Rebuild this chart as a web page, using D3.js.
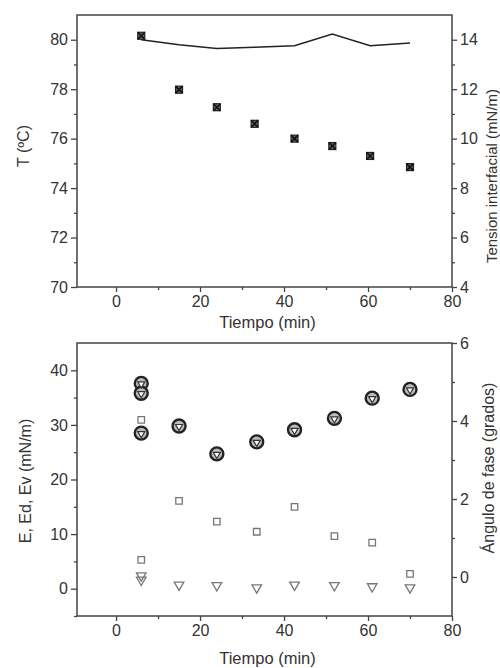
<!DOCTYPE html>
<html><head><meta charset="utf-8">
<script src="https://cdn.jsdelivr.net/npm/d3@7"></script>
<style>body{margin:0;background:#fff}svg{display:block}text{font-family:"Liberation Sans",Arial,sans-serif;fill:#333}</style>
</head><body><svg id="c" width="500" height="668"></svg>
<script>
// ---- data ----
const xTicks = [0, 20, 40, 60, 80];
// top panel
const tiempoTop = [6, 15, 24, 33, 42.5, 51.5, 60.5, 70];
const temperatura = [80.0, 79.8, 79.65, 79.7, 79.76, 80.23, 79.76, 79.87];   // T (ºC), line
const tension = [14.16, 11.98, 11.27, 10.6, 10.0, 9.7, 9.3, 8.85];              // mN/m, markers
const tTicks = [70, 72, 74, 76, 78, 80];
const tensionTicks = [4, 6, 8, 10, 12, 14];
// bottom panel
const tiempoE = [6, 6, 6, 15, 24, 33.5, 42.5, 52, 61, 70];
const E = [37.6, 35.8, 28.5, 29.8, 24.7, 26.9, 29.1, 31.2, 34.9, 36.5];
const Ed = [37.5, 35.7, 28.4, 29.7, 24.6, 26.8, 29.0, 31.1, 34.8, 36.4];
const tiempoEv = [6, 6, 15, 24, 33.5, 42.5, 52, 61, 70];
const Ev = [2.4, 1.6, 0.7, 0.6, 0.2, 0.7, 0.6, 0.4, 0.2];
const tiempoFase = [6, 6, 15, 24, 33.5, 42.5, 52, 61, 70];
const fase = [4.03, 0.44, 1.95, 1.42, 1.16, 1.8, 1.05, 0.88, 0.08];
const eTicks = [0, 10, 20, 30, 40];
const faseTicks = [0, 2, 4, 6];

const svg = d3.select("#c");
const L = 77, R = 452;
const x = d3.scaleLinear().domain([-9.3, 80]).range([L, R]);
const AX = "#444";
const FS = 16;

function frame(g, top, bottom){
  g.append("rect").attr("x", L).attr("y", top).attr("width", R - L).attr("height", bottom - top)
   .attr("fill", "none").attr("stroke", AX).attr("stroke-width", 1.5);
}
function styleAxis(sel){
  sel.select(".domain").remove();
  sel.selectAll("line").attr("stroke", AX).attr("stroke-width", 1.3);
  sel.selectAll("text").attr("font-size", FS).attr("fill", "#333");
}
const fmt = d3.format("d");
function xAxis(bottom){
  const g = svg.append("g").attr("transform", `translate(0,${bottom})`);
  g.call(d3.axisBottom(x).tickValues(xTicks).tickSize(5).tickPadding(4).tickFormat(fmt));
  styleAxis(g);
  const m = svg.append("g").attr("transform", `translate(0,${bottom})`);
  m.call(d3.axisBottom(x).tickValues([10, 30, 50, 70]).tickSize(3).tickFormat(""));
  styleAxis(m);
}
function yAxisLeft(y, ticks, minor){
  const g = svg.append("g").attr("transform", `translate(${L},0)`);
  g.call(d3.axisLeft(y).tickValues(ticks).tickSize(6).tickPadding(3).tickFormat(fmt));
  styleAxis(g);
  const m = svg.append("g").attr("transform", `translate(${L},0)`);
  m.call(d3.axisLeft(y).tickValues(minor).tickSize(3).tickFormat(""));
  styleAxis(m);
}
function yAxisRight(y, ticks, minor){
  const g = svg.append("g").attr("transform", `translate(${R},0)`);
  g.call(d3.axisRight(y).tickValues(ticks).tickSize(5).tickPadding(3).tickFormat(fmt));
  styleAxis(g);
  const m = svg.append("g").attr("transform", `translate(${R},0)`);
  m.call(d3.axisRight(y).tickValues(minor).tickSize(3).tickFormat(""));
  styleAxis(m);
}
function rotLabel(cx, cy, txt, fs){
  svg.append("text").attr("transform", `translate(${cx},${cy}) rotate(-90)`)
    .attr("text-anchor", "middle").attr("font-size", fs || FS).text(txt);
}

// ---- top panel ----
const T0 = 15, B0 = 287;
const yT = d3.scaleLinear().domain([70, 81]).range([B0, T0]);
const yTen = d3.scaleLinear().domain([4, 15]).range([B0, T0]);
frame(svg, T0, B0);
xAxis(B0);
yAxisLeft(yT, tTicks, [71, 73, 75, 77, 79]);
yAxisRight(yTen, tensionTicks, [5, 7, 9, 11, 13]);
svg.append("path").datum(tiempoTop.map((t, i) => [t, temperatura[i]]))
  .attr("d", d3.line().x(d => x(d[0])).y(d => yT(d[1])))
  .attr("fill", "none").attr("stroke", "#222").attr("stroke-width", 1.5);
const tm = svg.append("g");
tiempoTop.forEach((t, i) => {
  const cx = x(t), cy = yTen(tension[i]);
  tm.append("rect").attr("x", cx - 3.5).attr("y", cy - 3.5).attr("width", 7).attr("height", 7)
    .attr("fill", "#666").attr("stroke", "#222").attr("stroke-width", 1.2);
  tm.append("path").attr("d", `M${cx-3.5},${cy-3.5}L${cx+3.5},${cy+3.5}M${cx+3.5},${cy-3.5}L${cx-3.5},${cy+3.5}`)
    .attr("stroke", "#111").attr("stroke-width", 1.6);
});
svg.append("text").attr("x", (L + R) / 2 + 3).attr("y", 328).attr("text-anchor", "middle").attr("font-size", 16.5).text("Tiempo (min)");
rotLabel(29, 146, "T (ºC)");
rotLabel(497, 176, "Tension interfacial (mN/m)", 15);

// ---- bottom panel ----
const T1 = 343, B1 = 616;
const yE = d3.scaleLinear().domain([-5, 45]).range([B1, T1]);
const yF = d3.scaleLinear().domain([-1, 6]).range([B1, T1]);
frame(svg, T1, B1);
xAxis(B1);
yAxisLeft(yE, eTicks, [-5, 5, 15, 25, 35]);
yAxisRight(yF, faseTicks, [1, 3, 5]);

const sq = d3.symbol().type(d3.symbolSquare).size(42);
const triDown = d3.symbol().type(d3.symbolTriangle).size(40);
const triUp = d3.symbol().type(d3.symbolTriangle).size(22);

svg.append("g").selectAll("path").data(tiempoFase.map((t, i) => [t, fase[i]])).join("path")
  .attr("d", sq).attr("transform", d => `translate(${x(d[0])},${yF(d[1])})`)
  .attr("fill", "#fff").attr("stroke", "#777").attr("stroke-width", 1.3);
svg.append("g").selectAll("path").data(tiempoEv.map((t, i) => [t, Ev[i]])).join("path")
  .attr("d", triDown).attr("transform", d => `translate(${x(d[0])},${yE(d[1])}) rotate(180)`)
  .attr("fill", "none").attr("stroke", "#777").attr("stroke-width", 1.3);
svg.append("g").selectAll("circle").data(tiempoE.map((t, i) => [t, E[i]])).join("circle")
  .attr("cx", d => x(d[0])).attr("cy", d => yE(d[1])).attr("r", 6.5)
  .attr("fill", "#bbb").attr("stroke", "#222").attr("stroke-width", 2.4);
svg.append("g").selectAll("path").data(tiempoE.map((t, i) => [t, Ed[i]])).join("path")
  .attr("d", triUp).attr("transform", d => `translate(${x(d[0])},${yE(d[1])}) rotate(180)`)
  .attr("fill", "#fff").attr("stroke", "#333").attr("stroke-width", 1.2);

svg.append("text").attr("x", (L + R) / 2 + 3).attr("y", 664).attr("text-anchor", "middle").attr("font-size", 16.5).text("Tiempo (min)");
rotLabel(31, 481, "E, Ed, Ev (mN/m)");
rotLabel(494, 468, "Ángulo de fase (grados)");
</script></body></html>
